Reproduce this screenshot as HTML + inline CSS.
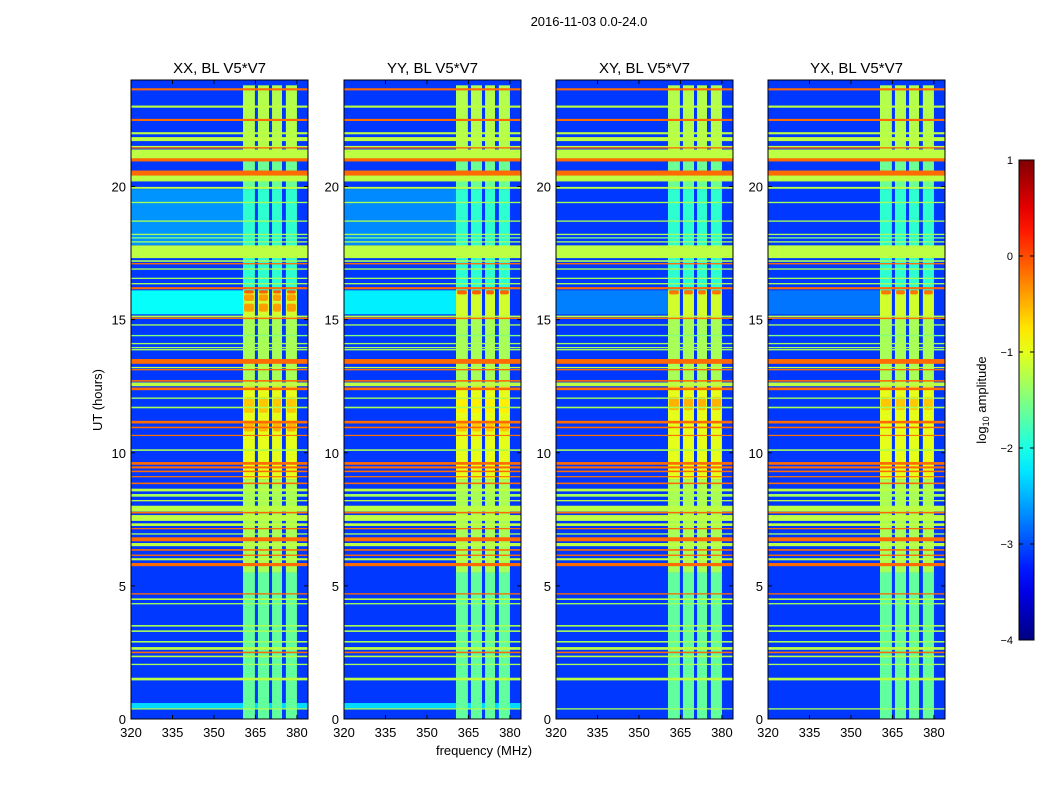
<!DOCTYPE html>
<html><head><meta charset="utf-8"><style>
body{margin:0;background:#fff;}
svg{display:block;font-family:"Liberation Sans",sans-serif;}
</style></head><body>
<svg id="fig" width="1050" height="800" viewBox="0 0 1050 800">
<text x="589" y="26" font-size="13" text-anchor="middle">2016-11-03 0.0-24.0</text>
<text x="484" y="755" font-size="13" text-anchor="middle">frequency (MHz)</text>
<text x="102" y="400" font-size="13" text-anchor="middle" transform="rotate(-90 102 400)">UT (hours)</text>
<g id="panels"></g>
<g id="cbar"></g>
</svg>
<script>
const panelTitles = ["XX, BL V5*V7","YY, BL V5*V7","XY, BL V5*V7","YX, BL V5*V7"];
const panelX0 = [131,344,556,768];
const xTicks = [320,335,350,365,380];
const yTicks = [0,5,10,15,20];
const cbarTicks = [1,0,-1,-2,-3,-4];
// background level (log10 amp) and brighter regions: [t0,t1,level,fmax]
const bgLevel = -3.1;
const bgRegionsXX = [[17.8,19.9,-2.65,361],[15.2,16.1,-2.1,361],[0.4,0.6,-2.3,384]];
const bgRegionsYY = [[17.8,19.9,-2.7,361],[15.2,16.1,-2.2,361],[0.4,0.6,-2.3,384]];
const bgRegionsXY = [[15.2,16.1,-2.75,361]];
const bgRegionsYX = [[15.2,16.1,-2.8,361]];
// vertical stripe frequency ranges (MHz)
const stripeF0 = [360.5,365.9,371.0,376.0];
const stripeF1 = [364.8,369.9,374.6,380.0];
// stripe level by time segment [t0,t1,level]
const stripeSegs = [[0,5.5,-1.65],[5.5,9,-1.3],[9,12.5,-1.0],[12.5,15,-1.3],[15,16.1,-1.1],[16.1,19.9,-1.9],[19.9,21,-1.6],[21,23.8,-1.25]];
// patches of high amplitude in stripes [t0,t1,level]
const stripePatchesXX = [[15.3,15.6,-0.4],[15.7,15.95,-0.4],[15.98,16.1,-0.1],[11.5,12.1,-0.6],[10.8,11.2,-0.5]];
const stripePatchesYY = [[15.95,16.1,-0.1],[11.5,12.1,-0.8],[10.8,11.2,-0.6]];
const stripePatchesXY = [[15.95,16.1,-0.2],[11.6,12.1,-0.5]];
const stripePatchesYX = [[15.95,16.1,-0.2],[11.6,12.1,-0.6]];
// RFI horizontal bands [t_center, width_hours, level]
const rfiBands = [
[23.65,0.08,-0.15],[23.0,0.08,-1.2],[22.5,0.08,-0.15],[22.0,0.08,-1.2],[21.78,0.15,-1.2],
[21.5,0.05,-1.2],[21.45,0.05,-0.15],[21.22,0.34,-1.2],[21.0,0.12,-0.15],[20.5,0.2,-0.15],
[20.3,0.22,-1.2],[19.95,0.07,-1.2],[19.4,0.05,-1.3],[18.7,0.05,-1.3],[18.2,0.05,-1.3],
[18.07,0.05,-1.5],[17.92,0.05,-1.3],[17.55,0.48,-1.2],[17.2,0.06,-1.3],[17.1,0.05,-0.15],
[16.9,0.05,-1.3],[16.55,0.05,-1.3],[16.35,0.05,-1.3],[16.18,0.08,-0.15],[15.12,0.06,-1.2],
[15.05,0.05,-0.15],[14.8,0.05,-1.3],[14.4,0.05,-1.5],[14.1,0.05,-1.3],[13.95,0.05,-1.3],
[13.87,0.05,-1.3],[13.43,0.18,-0.15],[13.2,0.05,-1.2],[13.12,0.05,-0.15],[12.7,0.06,-0.15],
[12.57,0.14,-1.2],[12.4,0.1,-0.15],[12.05,0.05,-1.3],[11.7,0.06,-1.3],[11.15,0.1,-0.15],
[10.95,0.06,-0.15],[10.65,0.04,-0.2],[10.1,0.06,-1.3],[9.6,0.1,-0.15],[9.45,0.08,-0.15],
[9.3,0.06,-0.15],[9.1,0.04,-0.2],[8.85,0.06,-0.15],[8.6,0.1,-1.2],[8.4,0.1,-1.3],
[8.2,0.05,-1.2],[7.9,0.22,-1.2],[7.75,0.06,-0.15],[7.55,0.22,-1.2],[7.3,0.1,-1.2],
[7.15,0.05,-0.15],[6.95,0.05,-1.3],[6.75,0.15,-0.15],[6.55,0.12,-1.2],[6.35,0.06,-0.15],
[6.15,0.05,-0.15],[6.0,0.08,-1.2],[5.8,0.12,-0.15],[4.7,0.05,-0.15],[4.5,0.06,-1.2],
[4.33,0.05,-1.3],[3.5,0.06,-1.3],[3.3,0.06,-1.3],[2.9,0.06,-1.3],[2.65,0.1,-1.2],
[2.5,0.06,-0.15],[2.35,0.06,-1.2],[2.05,0.05,-1.3],[1.5,0.1,-1.2],[0.38,0.05,-1.3]];
const bgRegions = [bgRegionsXX,bgRegionsYY,bgRegionsXY,bgRegionsYX];
const stripePatches = [stripePatchesXX,stripePatchesYY,stripePatchesXY,stripePatchesYX];

const vmin=-4, vmax=1;
function jet(v){
  let x=(v-vmin)/(vmax-vmin); x=Math.max(0,Math.min(1,x));
  const c=t=>Math.max(0,Math.min(1,1.5-Math.abs(4*x-t)));
  const r=c(3),g=c(2),b=c(1);
  return `rgb(${Math.round(r*255)},${Math.round(g*255)},${Math.round(b*255)})`;
}
const NS="http://www.w3.org/2000/svg";
function mk(tag,attrs,parent){const e=document.createElementNS(NS,tag);for(const k in attrs)e.setAttribute(k,attrs[k]);parent.appendChild(e);return e;}
const W=177, yTop=80, yBot=719;
const fy=t=>yBot-(t/24)*(yBot-yTop);
const panelsG=document.getElementById('panels');
panelTitles.forEach((title,i)=>{
  const x0=panelX0[i];
  const fx=f=>x0+(f-320)*(W/64);
  const g=mk('g',{},panelsG);
  
  
  const bg=mk('rect',{x:x0,y:yTop,width:W,height:yBot-yTop,fill:jet(bgLevel)},g);
  
  
  bgRegions[i].forEach(r=>{
    const e=mk('rect',{x:x0,y:fy(r[1]),width:fx(r[3])-x0,height:fy(r[0])-fy(r[1]),fill:jet(r[2])},g);
    
    
  });
  stripeF0.forEach((f0,k)=>{
    stripeSegs.forEach(s=>{
      const e=mk('rect',{x:fx(f0),y:fy(s[1]),width:fx(stripeF1[k])-fx(f0),height:fy(s[0])-fy(s[1]),fill:jet(s[2])},g);
      
      
    });
    stripePatches[i].forEach(s=>{
      const e=mk('rect',{x:fx(f0)+1,y:fy(s[1]),width:fx(stripeF1[k])-fx(f0)-2,height:fy(s[0])-fy(s[1]),fill:jet(s[2]),rx:2},g);
      
      
    });
  });
  rfiBands.forEach(b=>{
    const h=Math.max(1.2,(fy(0)-fy(b[1])));
    const e=mk('rect',{x:x0,y:fy(b[0])-h/2,width:W,height:h,fill:jet(b[2])},g);
    
    
  });
  const fr=mk('rect',{x:x0,y:yTop,width:W,height:yBot-yTop,fill:'none',stroke:'#000','stroke-width':1},g);
  
  
  const tt=mk('text',{x:x0+W/2,y:73,'font-size':15,'text-anchor':'middle'},g);
  tt.textContent=title;
  
  
  xTicks.forEach(v=>{
    mk('line',{x1:fx(v),x2:fx(v),y1:yBot,y2:yBot-4,stroke:'#000'},g);
    mk('line',{x1:fx(v),x2:fx(v),y1:yTop,y2:yTop+4,stroke:'#000'},g);
    const t=mk('text',{x:fx(v),y:yBot+18,'font-size':13,'text-anchor':'middle'},g);
    t.textContent=v;
    
    
  });
  yTicks.forEach(v=>{
    mk('line',{x1:x0,x2:x0+4,y1:fy(v),y2:fy(v),stroke:'#000'},g);
    mk('line',{x1:x0+W,x2:x0+W-4,y1:fy(v),y2:fy(v),stroke:'#000'},g);
    const t=mk('text',{x:x0-5,y:fy(v)+5,'font-size':13,'text-anchor':'end'},g);
    t.textContent=v;
    
    
  });
});
// colorbar
const cb=document.getElementById('cbar');
const cbX=1019,cbW=15,cbT=160,cbB=640;
const cy=v=>cbB-(v-vmin)/(vmax-vmin)*(cbB-cbT);
const defs=mk('defs',{},cb);
const grad=mk('linearGradient',{id:'jetg',x1:0,y1:1,x2:0,y2:0},defs);
for(let k=0;k<=20;k++){const v=vmin+k*(vmax-vmin)/20;mk('stop',{offset:k/20,'stop-color':jet(v)},grad);}
const cr=mk('rect',{x:cbX,y:cbT,width:cbW,height:cbB-cbT,fill:'url(#jetg)',stroke:'#000'},cb);


cbarTicks.forEach(v=>{
  mk('line',{x1:cbX,x2:cbX+4,y1:cy(v),y2:cy(v),stroke:'#000'},cb);
  mk('line',{x1:cbX+cbW,x2:cbX+cbW-4,y1:cy(v),y2:cy(v),stroke:'#000'},cb);
  const t=mk('text',{x:1013,y:cy(v)+4,'font-size':11,'text-anchor':'end'},cb);
  t.textContent=(v<0?'\u2212':'')+Math.abs(v);
  
  
});
const cl=mk('text',{x:986,y:400,'font-size':13,'text-anchor':'middle',transform:'rotate(-90 986 400)'},cb);
cl.innerHTML='log<tspan font-size="9" dy="3">10</tspan><tspan dy="-3"> amplitude</tspan>';


</script>
</body></html>
